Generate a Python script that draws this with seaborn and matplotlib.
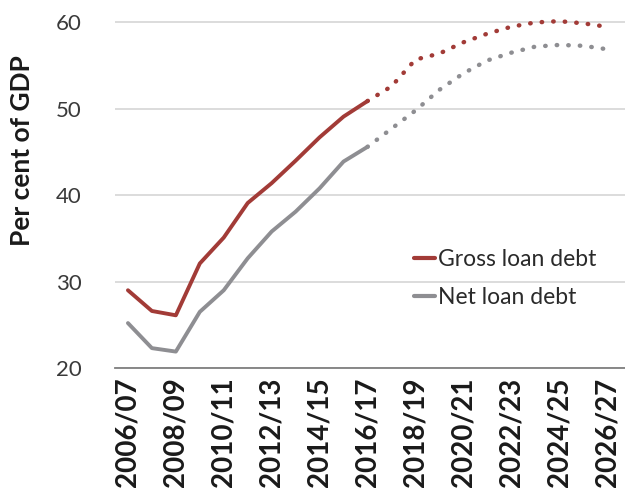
import matplotlib
matplotlib.use("Agg")
import matplotlib.pyplot as plt
import seaborn as sns
import pandas as pd
from matplotlib.lines import Line2D

years = ["2006/07", "2007/08", "2008/09", "2009/10", "2010/11", "2011/12", "2012/13",
         "2013/14", "2014/15", "2015/16", "2016/17", "2017/18", "2018/19", "2019/20",
         "2020/21", "2021/22", "2022/23", "2023/24", "2024/25", "2025/26", "2026/27"]
gross = [29.0, 26.6, 26.1, 32.1, 35.1, 39.1, 41.4, 44.0, 46.7, 49.1, 50.9,
         52.6, 55.7, 56.4, 57.7, 58.7, 59.5, 60.0, 60.15, 59.9, 59.5]
net = [25.2, 22.3, 21.9, 26.5, 29.0, 32.7, 35.8, 38.1, 40.8, 43.9, 45.6,
       47.7, 49.8, 52.2, 54.1, 55.6, 56.5, 57.2, 57.4, 57.3, 56.9]
n_actual = 11

red = "#A23B37"
grey = "#8E8E92"

df = pd.DataFrame({"idx": range(len(years)), "year": years, "gross": gross, "net": net})
act = df.iloc[:n_actual]
proj = df.iloc[n_actual - 1:]

sns.set_style("white")
plt.rcParams['font.family'] = ['Lato', 'DejaVu Sans']

fig = plt.figure(figsize=(6.25, 5.01), dpi=100)
ax = fig.add_axes([115 / 625, 133 / 501, 510 / 625, 368 / 501])

sns.lineplot(data=act, x="idx", y="gross", color=red, lw=2.8, ax=ax)
sns.lineplot(data=act, x="idx", y="net", color=grey, lw=2.8, ax=ax)
sns.lineplot(data=proj, x="idx", y="gross", color=red, lw=3.2, ax=ax,
             linestyle=(0, (0.1, 2.5)), dash_capstyle="round")
sns.lineplot(data=proj, x="idx", y="net", color=grey, lw=3.2, ax=ax,
             linestyle=(0, (0.1, 2.5)), dash_capstyle="round")

ax.set_xlim(-0.54, 20.75)
ax.set_ylim(20, 62.6)
ax.set_yticks([20, 30, 40, 50, 60])
ax.yaxis.grid(True, color="#D9D9D9", lw=1.3)
ax.set_axisbelow(True)
for s in ["top", "right", "left"]:
    ax.spines[s].set_visible(False)
ax.spines["bottom"].set_color("#7F7F7F")
ax.spines["bottom"].set_linewidth(1.3)

ax.set_xticks(range(0, len(years), 2))
ax.set_xticklabels(years[::2], rotation=90, fontsize=20, fontweight="bold", color="#1A1A1A")
ax.tick_params(axis="x", length=0, pad=7)
ax.tick_params(axis="y", length=0, labelsize=16, pad=24)
for t in ax.get_yticklabels():
    t.set_color("#3A3A3A")

ax.set_xlabel("")
ax.set_ylabel("Per cent of GDP", fontsize=19, fontweight="bold", color="#1A1A1A")
ax.yaxis.set_label_coords(-0.158, 0.59)

handles = [Line2D([], [], color=red, lw=3), Line2D([], [], color=grey, lw=3)]
ax.legend(handles, ["Gross loan debt", "Net loan debt"], loc="upper left",
          bbox_to_anchor=(0.545, 0.38), frameon=False, fontsize=16.5,
          handlelength=0.95, handletextpad=0.1, labelspacing=0.75, labelcolor="#2A2A2A")

fig.savefig("out.png", dpi=100)
